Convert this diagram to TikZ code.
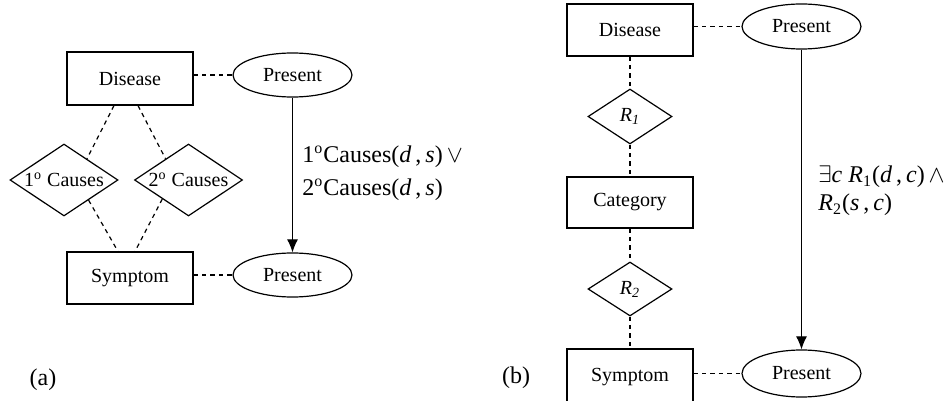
\documentclass[tikz,border=0pt]{standalone}
\usepackage{fontspec}
\setmainfont{Liberation Serif}
\usetikzlibrary{shapes.geometric,arrows.meta,calc}

\begin{document}
\begin{tikzpicture}[x=0.5pt,y=-0.5pt,
  entity/.style={draw,line width=0.6pt,minimum width=63pt,minimum height=26pt,
    inner sep=0pt,font=\fontsize{10}{12}\selectfont},
  attr/.style={draw,ellipse,line width=0.6pt,minimum width=59.5pt,minimum height=22pt,
    inner sep=0pt,font=\fontsize{10}{12}\selectfont},
  rel/.style={draw,diamond,line width=0.6pt,inner sep=0pt,
    font=\fontsize{10}{12}\selectfont},
  link/.style={dash pattern=on 2.2pt off 2pt,line width=0.6pt},
  infer/.style={-{Latex[length=6.5pt,width=5.5pt]},line width=0.6pt},
  formula/.style={anchor=west,align=left,inner sep=0pt},
  caption/.style={inner sep=0pt,font=\fontsize{12}{14}\selectfont}
]
\useasboundingbox (0,0) rectangle (950,401);

% ---------------- (a) ----------------
\node[entity,minimum height=26.5pt] (disA) at (130,78.5) {Disease};
\node[entity] (symA) at (130,278) {Symptom};
\node[attr] (preA1) at (292.5,75) {Present};
\node[attr] (preA2) at (292.5,275) {Present};
\node[rel,minimum width=54pt,minimum height=36pt] (c1) at (64,180)
  {\makebox[0pt]{1\textsuperscript{o} Causes}};
\node[rel,minimum width=54pt,minimum height=36pt] (c2) at (188.5,180)
  {\makebox[0pt]{2\textsuperscript{o} Causes}};

\draw[link] (disA.east |- preA1) -- (preA1.west);
\draw[link] (symA.east |- preA2) -- (preA2.west);
\draw[link] ($(disA.south)+(-16,0)$) -- ($(c1.north)!0.42!(c1.east)$);
\draw[link] ($(disA.south)+(8,0)$) -- ($(c2.north)!0.42!(c2.west)$);
\draw[link] ($(c1.east)!0.55!(c1.south)$) -- ($(symA.north)+(-12,0)$);
\draw[link] ($(c2.west)!0.52!(c2.south)$) -- ($(symA.north)+(5,0)$);
\draw[infer] (preA1) -- (preA2);

\node[formula,font=\fontsize{12}{16.5}\selectfont] (fA) at (302,173)
  {1\textsuperscript{o}Causes(\textit{d}\,,\,\textit{s})\,$\vee$\\
   2\textsuperscript{o}Causes(\textit{d}\,,\,\textit{s})};

\node[caption] (capA) at (43,380) {(a)};

% ---------------- (b) ----------------
\node[entity] (disB) at (630,30) {Disease};
\node[rel,minimum width=42pt,minimum height=27.5pt] (r1) at (630,116.5)
  {\makebox[0pt]{\textit{R\textsubscript{1}}}};
\node[entity,minimum height=25.5pt] (catB) at (630,202.5) {Category};
\node[rel,minimum width=42pt,minimum height=27pt] (r2) at (630,289)
  {\makebox[0pt]{\textit{R\textsubscript{2}}}};
\node[entity,minimum height=28pt] (symB) at (630,377) {Symptom};
\node[attr,minimum height=22.5pt] (preB1) at (801.5,26.5) {Present};
\node[attr,minimum height=23.5pt] (preB2) at (801.5,373.5) {Present};

\draw[link] (disB) -- (r1);
\draw[link] (r1) -- (catB);
\draw[link] (catB) -- (r2);
\draw[link] (r2) -- (symB.north);
\draw[link] (disB.east |- preB1) -- (preB1.west);
\draw[link] (symB.east |- preB2) -- (preB2.west);
\draw[infer] (preB1) -- (preB2);

\node[formula,font=\fontsize{12}{14}\selectfont] (fB) at (818,191)
  {$\exists$\textit{c} \textit{R}\textsubscript{1}(\textit{d}\,,\,\textit{c})\,$\wedge$\\
   \textit{R}\textsubscript{2}(\textit{s}\,,\,\textit{c})};

\node[caption] (capB) at (516,378) {(b)};
\end{tikzpicture}
\end{document}
